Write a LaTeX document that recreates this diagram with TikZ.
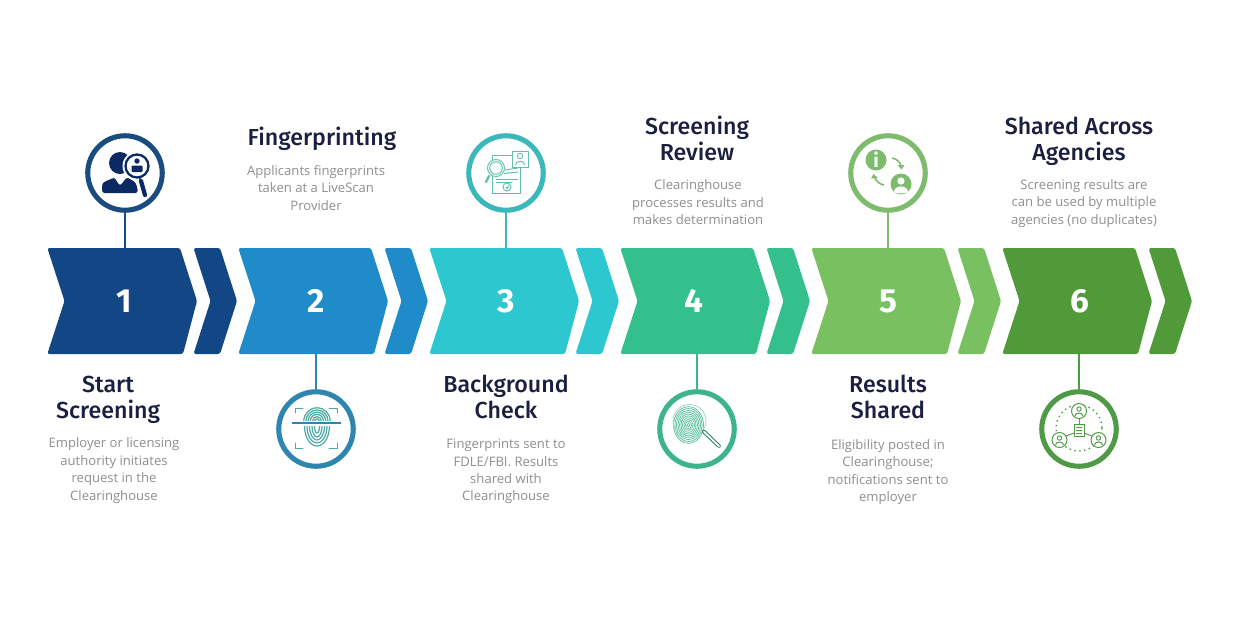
\documentclass[tikz,border=0pt]{standalone}
\usepackage{fontspec}
\setmainfont{Open Sans}
\newfontfamily\headfont{Fira Sans Medium}
\newfontfamily\numfont{Fira Sans}[BoldFont={Fira Sans Bold}]
\definecolor{cA}{HTML}{134684}\definecolor{cB}{HTML}{1F8CC9}\definecolor{cC}{HTML}{2CC7CF}
\definecolor{cD}{HTML}{33C08C}\definecolor{cE}{HTML}{78C060}\definecolor{cF}{HTML}{519A3A}
\definecolor{rA}{HTML}{1A4C80}\definecolor{rB}{HTML}{2E86B0}\definecolor{rC}{HTML}{3BB8BC}
\definecolor{rD}{HTML}{3DB48C}\definecolor{rE}{HTML}{7DBB6D}\definecolor{rF}{HTML}{4F9A47}
\definecolor{headc}{HTML}{1B2040}\definecolor{bodyc}{HTML}{8F8F8F}\definecolor{navy}{HTML}{0B2A63}
\definecolor{tealline}{HTML}{4FA9A6}\definecolor{docline}{HTML}{5FC0AE}
\tikzset{
  x=0.02cm,y=-0.02cm,
  chevbody/.style={rounded corners=1.3pt,draw=none},
  numlabel/.style={text=white,font=\numfont\bfseries\fontsize{19}{19}\selectfont,inner sep=0pt},
  ring/.style={circle,draw=#1,line width=2.9pt,minimum size=1.49cm,inner sep=0pt,fill=white},
  stem/.style={draw=#1,line width=1.4pt},
  headtext/.style={text=headc,align=center,inner sep=0pt,font=\headfont\fontsize{13.2}{14.8}\selectfont},
  bodytext/.style={text=bodyc,align=center,inner sep=0pt,font=\fontsize{7.45}{9.95}\selectfont},
}
\newcommand{\chevron}[5]{%
  \fill[#2,chevbody] (#1-0.7,248) -- (#1+132,248) -- (#1+149,301) -- (#1+135,354) -- (#1-0.7,354) -- (#1+16.5,301) -- cycle;
  \fill[#2,chevbody] (#1+145.5,248) -- (#1+172,248) -- (#1+189,301) -- (#1+172,354) -- (#1+145.5,354) -- (#1+162.5,301) -- cycle;
  \node[numlabel] (#3) at (#5,301) {#4};
}
\begin{document}
\begin{tikzpicture}
\useasboundingbox (0,0) rectangle (1240,620);
\fill[white] (0,0) rectangle (1240,620);
% chevrons
\chevron{48}{cA}{n1}{1}{124}
\chevron{239}{cB}{n2}{2}{316}
\chevron{430}{cC}{n3}{3}{506.5}
\chevron{621}{cD}{n4}{4}{694}
\chevron{812}{cE}{n5}{5}{888}
\chevron{1003}{cF}{n6}{6}{1079.5}
% rings
\node[ring=rA] (c1) at (125,173) {};
\node[ring=rB] (c2) at (316,429) {};
\node[ring=rC] (c3) at (506,173) {};
\node[ring=rD] (c4) at (697,429) {};
\node[ring=rE] (c5) at (888,173) {};
\node[ring=rF] (c6) at (1079,429) {};
\coordinate (e1) at (125,248); \coordinate (e2) at (316,354); \coordinate (e3) at (506,248);
\coordinate (e4) at (697,354); \coordinate (e5) at (888,248); \coordinate (e6) at (1079,354);
\draw[stem=rA] (c1) -- (e1);
\draw[stem=rB] (c2) -- (e2);
\draw[stem=rC] (c3) -- (e3);
\draw[stem=rD] (c4) -- (e4);
\draw[stem=rE] (c5) -- (e5);
\draw[stem=rF] (c6) -- (e6);
% icon 1
\fill[navy] (120,163) circle[radius=11];
\fill[navy,rounded corners=1.5pt] (102,193) -- (102,187) .. controls (103,181) and (110,180) .. (114,177) -- (120,186) -- (127,177) .. controls (132,180) and (135,182) .. (137,186) -- (138,193) -- cycle;
\fill[white] (137,166) circle[radius=14.5];
\draw[navy,line width=1.3pt] (137,166) circle[radius=11.5];
\fill[navy] (137,161) circle[radius=2.7];
\fill[navy,rounded corners=0.5pt] (131.5,172) rectangle (142.5,165.5);
\draw[navy,line width=2.4pt,line cap=round] (141,181) -- (145,195);
\draw[navy,line width=0.8pt] (139.5,178) -- (141,181);
% icon 2
\begin{scope}[draw=tealline,line width=0.5pt]
\draw[line cap=round] (295,413) -- (295,408.5) -- (303,408.5);
\draw[line cap=round] (329,408.5) -- (337,408.5) -- (337,413);
\draw[line cap=round] (295,443) -- (295,448) -- (303,448);
\draw[line cap=round] (329,448) -- (337,448) -- (337,443);
\draw[draw=rB,line width=0.8pt] (292,423) -- (341,423);
\foreach \r in {2.2,4.4,6.6,8.8,11,13.2} \draw[line width=0.7pt] (317-\r,421) arc[start angle=180,end angle=360,radius=\r];
\foreach \r/\s in {2.5/7,5/11,7.5/14,10/17,12.5/20} \draw[line width=0.7pt] (317+\r,426) arc[start angle=0,end angle=180,x radius=\r,y radius=\s];
\end{scope}
% icon 3
\begin{scope}[draw=docline,line width=0.55pt]
\draw (492,155) rectangle (520,193);
\draw[fill=white] (512,151) rectangle (528,167);
\draw (520,156) circle[radius=2.6];
\draw (515.5,165) .. controls (515.5,160) and (524.5,160) .. (524.5,165);
\draw[fill=white] (496,168) circle[radius=8.5];
\draw (496,168) circle[radius=6.3];
\draw[line width=1.3pt,line cap=round] (489,176) -- (486,182);
\draw (505,170) -- (518,168); \draw (504,173.5) -- (518,172);
\draw (496,179) -- (518,179); \draw (496,182) -- (512,182);
\draw (507,187) circle[radius=4];
\draw (505.5,187) -- (507,188.5) -- (508.8,185.5);
\end{scope}
% icon 4
\begin{scope}[draw=rD!85]
\foreach \r in {1.5,3,...,15} \draw[line width=0.42pt] (688.5,425) circle[x radius=\r,y radius=\r*1.22];
\draw[line width=0.45pt,draw=rD!50] (689.5,421) circle[radius=16.5];
\draw[line width=0.5pt,draw=rD!70!black,rounded corners=0.6pt] (702,431) -- (704.5,430) -- (721,446) -- (719,448) -- (703,433) -- cycle;
\end{scope}
% icon 5
\begin{scope}[rE]
\fill (876,160) circle[radius=10.5];
\node[text=white,inner sep=0pt,font=\numfont\bfseries\fontsize{11}{11}\selectfont] (infoi) at (876,160) {i};
\fill (901,184) circle[radius=10.5];
\fill[white] (901,181) circle[radius=3.6];
\fill[white] (894,192) .. controls (894,184.5) and (908,184.5) .. (908,192) .. controls (905,194) and (897,194) .. (894,192) -- cycle;
\draw[line width=0.9pt] (892,158) .. controls (897,159) and (900,162) .. (901,166);
\fill (897.5,165) -- (904.5,165) -- (901.5,169.5) -- cycle;
\draw[line width=0.9pt] (884,185) .. controls (879,184) and (876,181) .. (874.5,177);
\fill (871,178.5) -- (878,178) -- (873.5,174) -- cycle;
\end{scope}
% icon 6
\begin{scope}[draw=rF,line width=0.55pt]
\draw[dotted,line width=0.8pt] (1079,428) circle[radius=23];
\draw (1079,417) -- (1079,424);
\draw (1074,433) -- (1066,436);
\draw (1084,433) -- (1092,436);
\draw[fill=white] (1079,411) circle[radius=7.5];
\draw[fill=white] (1059.5,440) circle[radius=7.5];
\draw[fill=white] (1098.5,440) circle[radius=7.5];
\draw[fill=white] (1074,424) rectangle (1084,436);
\foreach \y in {427,430,433} \draw (1076,\y) -- (1082,\y);
\foreach \a/\b in {1079/411,1059.5/440,1098.5/440}{
  \draw (\a,\b-2) circle[radius=2.2];
  \draw (\a-4,\b+5) .. controls (\a-4,\b+1) and (\a+4,\b+1) .. (\a+4,\b+5);
}
\end{scope}
% headings
\node[headtext] (h1) at (108,400) {Start\\Screening};
\node[headtext] (h2) at (322,139) {Fingerprinting};
\node[headtext] (h3) at (506,397) {Background\\Check};
\node[headtext] (h4) at (697,138) {Screening\\Review};
\node[headtext] (h5) at (888,397) {Results\\Shared};
\node[headtext] (h6) at (1079,141) {Shared Across\\Agencies};
% body
\node[bodytext] (b1) at (114,470.5) {Employer or licensing\\authority initiates\\request in the\\Clearinghouse};
\node[bodytext] (b2) at (316,188) {Applicants fingerprints\\taken at a LiveScan\\Provider};
\node[bodytext] (b3) at (506,471.5) {Fingerprints sent to\\FDLE/FBI. Results\\shared with\\Clearinghouse};
\node[bodytext] (b4) at (698,202.5) {Clearinghouse\\processes results and\\makes determination};
\node[bodytext] (b5) at (888,472) {Eligibility posted in\\Clearinghouse;\\notifications sent to\\employer};
\node[bodytext] (b6) at (1084,203.5) {Screening results are\\can be used by multiple\\agencies (no duplicates)};
\end{tikzpicture}
\end{document}
